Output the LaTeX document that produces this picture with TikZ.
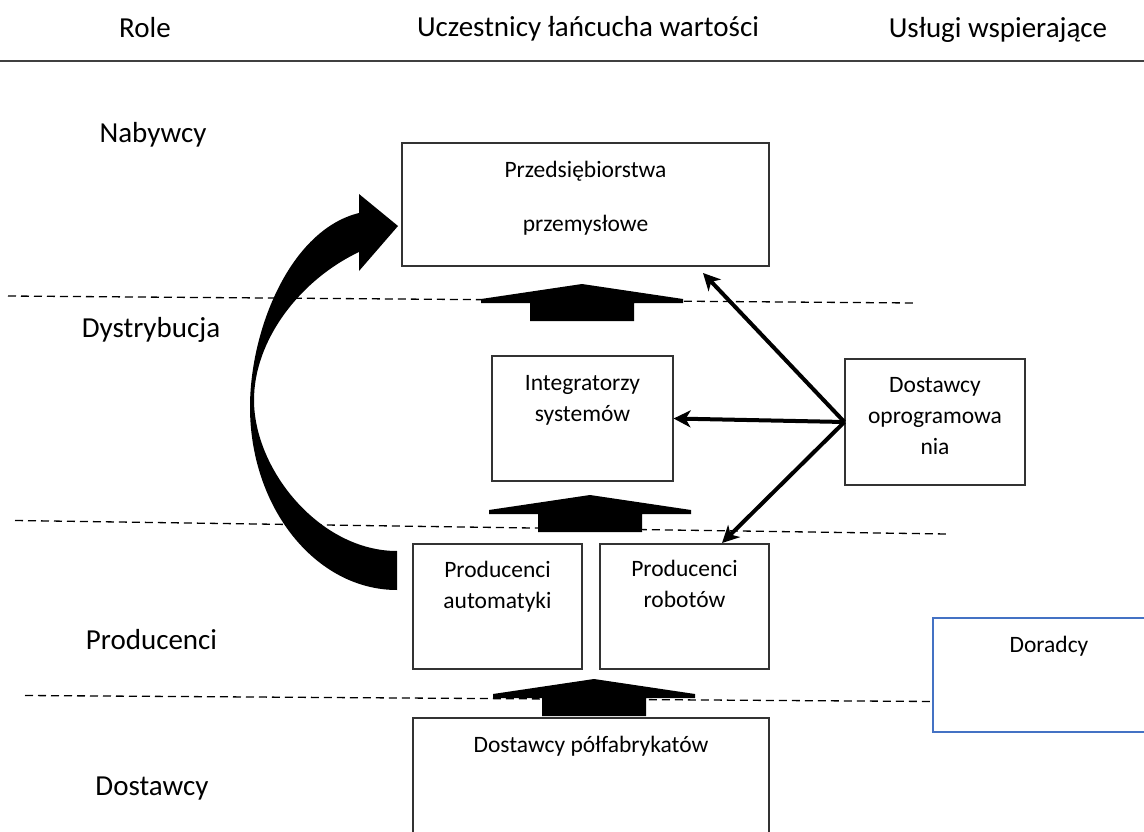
\documentclass[tikz,border=0pt]{standalone}
\usepackage{fontspec}
\setmainfont{Carlito}
\usepackage{tikz}
\usetikzlibrary{arrows.meta,positioning,calc}
\definecolor{doradcy}{HTML}{4472C4}

\begin{document}
\begin{tikzpicture}[x=1pt,y=-1pt,
box/.style={draw=black!80,line width=1.2pt,inner sep=0pt},
bluebox/.style={draw=doradcy,line width=2pt,inner sep=0pt},
rola/.style={font=\fontsize{29}{35}\selectfont,anchor=base},
opis/.style={font=\fontsize{23.5}{31}\selectfont,align=center,anchor=base},
przerywana/.style={dash pattern=on 8pt off 5pt,line width=1.3pt},
cienka/.style={-{Stealth[length=17pt,width=17pt,inset=5pt]},line width=4pt}]
\useasboundingbox (0,0) rectangle (1144,832);

% naglowki
\node[rola] (hrole) at (145,38) {Role};
\node[rola] (hucz) at (588,37) {Uczestnicy łańcucha wartości};
\node[rola] (husl) at (998,38) {Usługi wspierające};
\draw[line width=2pt,black!75] (0,61) -- (1144,61);

% role
\node[rola] (nab) at (153,143) {Nabywcy};
\node[rola] (dys) at (151,337) {Dystrybucja};
\node[rola] (prod) at (151.5,649) {Producenci};
\node[rola] (dost) at (152,795) {Dostawcy};

% granice
\draw[przerywana] (8,296) -- (915,303);
\draw[przerywana] (15,520.5) -- (947,534);
\draw[przerywana] (25,695.5) -- (933,701.5);

% prostokaty
\node[box,minimum width=367pt,minimum height=123pt] (przed) at (585.5,204.5) {};
\node[box,minimum width=181pt,minimum height=125pt] (integ) at (582.5,418.5) {};
\node[box,minimum width=180pt,minimum height=126pt] (dopr) at (935,422) {};
\node[box,minimum width=169pt,minimum height=125pt] (auto) at (497.5,606.5) {};
\node[box,minimum width=169pt,minimum height=125pt] (rob) at (684.5,606.5) {};
\node[box,minimum width=356pt,minimum height=120pt] (polf) at (591,778) {};
\node[bluebox,minimum width=220pt,minimum height=114pt] (dor) at (1043,675) {};

% opisy (base = ostatni wiersz)
\node[opis] (tprzed) at (585.5,231) {Przedsiębiorstwa\\[23pt]przemysłowe};
\node[opis] (tinteg) at (582.5,421) {Integratorzy\\systemów};
\node[opis] (tdopr) at (935,454) {Dostawcy\\oprogramowa\\nia};
\node[opis] (tauto) at (497.5,608) {Producenci\\automatyki};
\node[opis] (trob) at (684.5,607) {Producenci\\robotów};
\node[opis] (tpolf) at (591,752) {Dostawcy półfabrykatów};
\node[opis] (tdor) at (1049,652) {Doradcy};

% strzalki blokowe
\foreach \bx/\by in {582/284,590/495,594/679}
  \fill (\bx,\by) -- ++(101,15) -- ++(0,4) -- ++(-49,0) -- ++(0,18)
    -- ++(-104,0) -- ++(0,-18) -- ++(-49,0) -- ++(0,-4) -- cycle;

% zakrzywiona strzalka
\fill (397,590) .. controls (316,590) and (250,508) .. (250,407)
  .. controls (250,330) and (290,230) .. (359,213)
  -- (359,194) -- (398,226) -- (359,271) -- (359,252)
  .. controls (300,280) and (254,340) .. (254,400)
  .. controls (254,470) and (320,551) .. (397,551) -- cycle;

% oprogramowanie
\coordinate (k1) at (703,273);
\coordinate (k3) at (722,543);
\draw[cienka] (dopr.west) -- (k1);
\draw[cienka] (dopr.west) -- (integ.east);
\draw[cienka] (dopr.west) -- (k3);
\end{tikzpicture}
\end{document}
